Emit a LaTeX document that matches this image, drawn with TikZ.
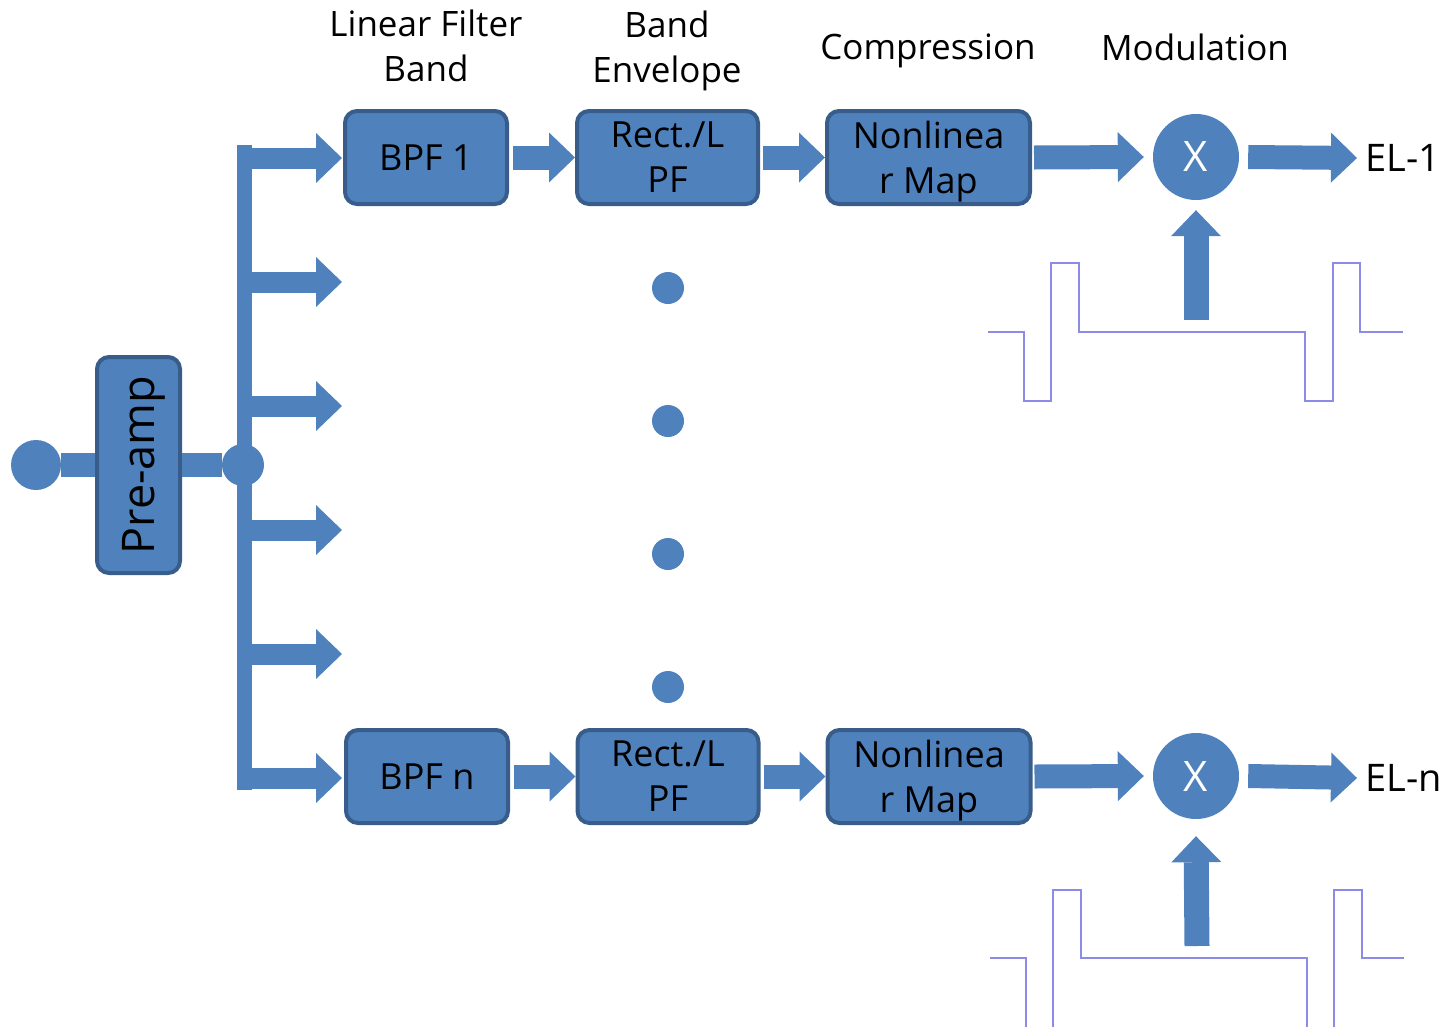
\documentclass[tikz,border=0pt]{standalone}
\usepackage{fontspec}
\setmainfont{Open Sans}
\usetikzlibrary{arrows.meta}
\definecolor{fillb}{HTML}{4F81BD}
\definecolor{edgeb}{HTML}{385D8A}
\definecolor{pulsec}{HTML}{8C8CE6}
\begin{document}
\begin{tikzpicture}[x=1pt,y=-1pt,
  box/.style={draw=edgeb, line width=4pt, fill=fillb, rounded corners=12pt, text=black,
    font=\fontsize{36}{45}\selectfont, align=center, inner sep=0pt, minimum height=93pt},
  hdr/.style={font=\fontsize{35}{45}\selectfont, align=center, inner sep=0pt, text=black},
  blk/.style={fillb, line width=24pt, -{Triangle[width=50pt,length=26pt,line width=0pt]}},
  brn/.style={fillb, line width=21pt, -{Triangle[width=50pt,length=26pt,line width=0pt]}},
  dotn/.style={circle, fill=fillb, minimum size=32pt, inner sep=0pt},
  mult/.style={circle, fill=fillb, minimum size=86pt, inner sep=0pt, text=white, font=\fontsize{42}{48}\selectfont},
  pulse/.style={draw=pulsec, line width=1.6pt}
]
\useasboundingbox (0,0) rectangle (1449,1026);

% headers
\node[hdr] (h1) at (426,46) {Linear Filter\\Band};
\node[hdr] (h2) at (667,47) {Band\\Envelo\smash{p}e};
\node[hdr] (h3) at (928,47) {Com\smash{p}ression};
\node[hdr] (h4) at (1195,47) {Modulation};

% pre-amp
\node[circle, fill=fillb, minimum size=50pt, inner sep=0pt] (inp) at (36,465) {};
\node[box, minimum width=83pt, minimum height=216pt, font=\fontsize{45}{50}\selectfont] (pre) at (138.5,465) {\rotatebox{90}{Pre-am\smash{p}}};
\node[circle, fill=fillb, minimum size=42pt, inner sep=0pt] (jn) at (243,465) {};
\draw[fillb, line width=24pt] (inp) -- (pre.west);
\draw[fillb, line width=24pt] (pre.east) -- (jn);

% bus
\coordinate (busT) at (244,145);
\coordinate (busB) at (244,790);
\draw[fillb, line width=15pt] (busT) -- (busB);

% row 1
\node[box, minimum width=162pt] (bpf1) at (426,157.5) {BPF 1};
\node[box, minimum width=181pt] (rect1) at (667.5,157.5) {Rect./L\\PF};
\node[box, minimum width=203pt] (nl1) at (928.5,157.5) {Nonlinea\\r Ma\smash{p}};
\node[mult] (x1) at (1196,157) {X};
\node[hdr, anchor=west, font=\fontsize{38}{45}\selectfont] (el1) at (1365,158) {EL-1};

% row n
\node[box, minimum width=162pt] (bpfn) at (427,776.5) {BPF n};
\node[box, minimum width=181pt] (rectn) at (668,776.5) {Rect./L\\PF};
\node[box, minimum width=203pt] (nln) at (929,776.5) {Nonlinea\\r Ma\smash{p}};
\node[mult] (xn) at (1196,776) {X};
\node[hdr, anchor=west, font=\fontsize{38}{45}\selectfont] (eln) at (1365,778) {EL-n};

% branches
\foreach \i/\y in {1/158,2/282,3/406,4/530,5/654,6/778}{
  \coordinate (bs\i) at (237,\y);
  \coordinate (be\i) at (342,\y);
}
\draw[brn] (bs1) -- (be1);
\draw[brn] (bs2) -- (be2);
\draw[brn] (bs3) -- (be3);
\draw[brn] (bs4) -- (be4);
\draw[brn] (bs5) -- (be5);
\draw[brn] (bs6) -- (be6);

% row arrows
\draw[blk] ([xshift=4pt]bpf1.east) -- (rect1.west);
\draw[blk] ([xshift=3pt]rect1.east) -- (nl1.west);
\draw[blk] ([xshift=2pt]nl1.east) -- ([xshift=-9pt]x1.west);
\draw[blk] ([xshift=9pt]x1.east) -- ([xshift=-8pt]el1.west);

\draw[blk] ([xshift=4pt]bpfn.east) -- (rectn.west);
\draw[blk] ([xshift=3pt]rectn.east) -- (nln.west);
\draw[blk] ([xshift=2pt]nln.east) -- ([xshift=-9pt]xn.west);
\draw[blk] ([xshift=9pt]xn.east) -- ([xshift=-8pt]eln.west);

% dots
\node[dotn] (d1) at (668,288) {};
\node[dotn] (d2) at (668,421) {};
\node[dotn] (d3) at (668,554) {};
\node[dotn] (d4) at (668,687) {};

% modulation inputs
\coordinate (m1) at (1196,320);
\coordinate (mn) at (1197,946);
\draw[blk, line width=25pt] (m1) -- ([yshift=-10pt]x1.south);
\draw[blk, line width=25pt] (mn) -- ([yshift=-17pt]xn.south);

% pulse trains
\draw[pulse] (988,332) -- (1024,332) -- (1024,401) -- (1051,401) -- (1051,263) -- (1079,263) -- (1079,332)
  -- (1305,332) -- (1305,401) -- (1333,401) -- (1333,263) -- (1360,263) -- (1360,332) -- (1403,332);
\begin{scope}
\clip (0,0) rectangle (1449,1026);
\draw[pulse] (990,958) -- (1026,958) -- (1026,1030) (1053,1030) -- (1053,890) -- (1081,890) -- (1081,958)
  -- (1307,958) -- (1307,1030) (1334,1030) -- (1334,890) -- (1362,890) -- (1362,958) -- (1404,958);
\end{scope}
\end{tikzpicture}
\end{document}
